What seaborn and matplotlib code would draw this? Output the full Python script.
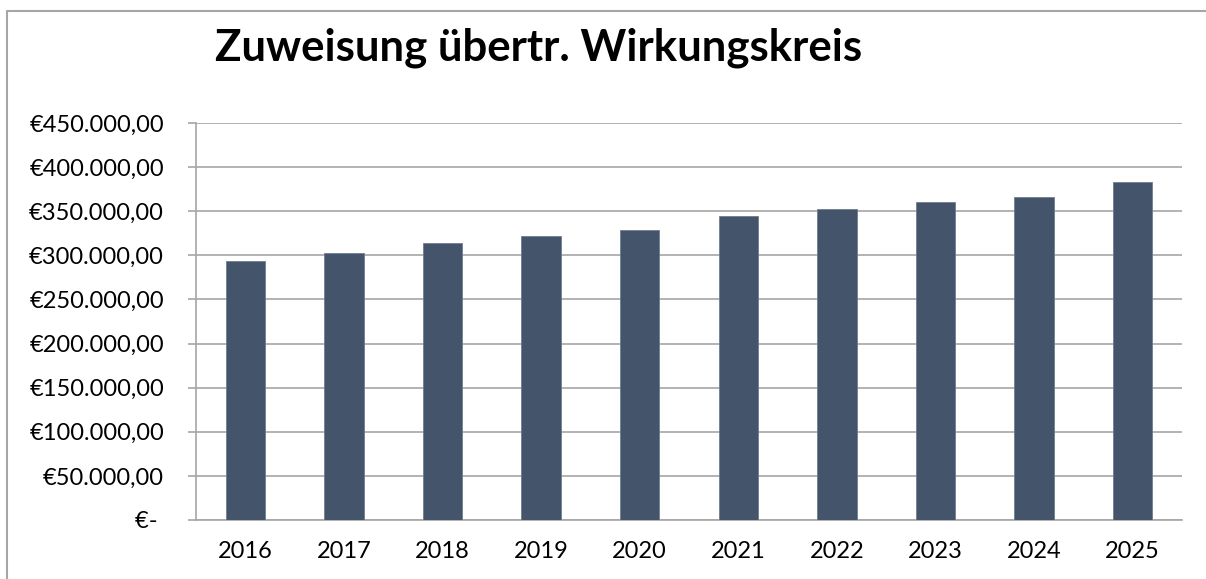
import numpy as np
import pandas as pd
import matplotlib
matplotlib.use('Agg')
import matplotlib.pyplot as plt
import seaborn as sns
from matplotlib.ticker import FuncFormatter, FixedLocator
from matplotlib.lines import Line2D

# values (EUR)
years = ['2016', '2017', '2018', '2019', '2020',
         '2021', '2022', '2023', '2024', '2025']
amounts = [293900, 302600, 313500, 321400, 328550,
           344700, 352250, 360500, 365800, 382700]
y_ticks = [0, 50000, 100000, 150000, 200000, 250000,
           300000, 350000, 400000, 450000]

df = pd.DataFrame({'Jahr': years, 'Betrag': amounts})

sns.set_style('white')
plt.rcParams['font.family'] = ['Lato', 'DejaVu Sans']
plt.rcParams['text.color'] = 'black'
plt.rcParams['xtick.labelcolor'] = 'black'
plt.rcParams['ytick.labelcolor'] = 'black'

fig = plt.figure(figsize=(12.06, 5.79), dpi=100)
ax = fig.add_axes([196 / 1206, 1 - 520 / 579, 986 / 1206, 397 / 579])

sns.barplot(data=df, x='Jahr', y='Betrag', color='#44546A',
            saturation=1, width=0.4, edgecolor='#6F7D90', linewidth=0.6,
            ax=ax, zorder=3)


def euro(v, pos):
    if v == 0:
        # accounting format leaves a small gap after the dash
        return '€- '
    s = f'{v:,.2f}'.replace(',', 'X').replace('.', ',').replace('X', '.')
    return '€' + s


ax.set_ylim(0, 450000)
ax.yaxis.set_major_locator(FixedLocator(y_ticks))
ax.yaxis.set_major_formatter(FuncFormatter(euro))
ax.grid(axis='y', color='#A6A6A6', linewidth=1.2, zorder=0)

ax.set_xlim(-0.5, len(years) - 0.5)
ax.set_xticks(np.arange(-0.5, len(years)), minor=True)
ax.tick_params(axis='x', which='major', length=0, pad=15, labelsize=17)
ax.tick_params(axis='x', which='minor', length=6, width=1.2,
               color='#A6A6A6', direction='out')
ax.tick_params(axis='y', length=6, width=1.2, color='#A6A6A6',
               direction='out', pad=17, labelsize=17)
ax.tick_params(left=True, bottom=True)

for side in ['top', 'right']:
    ax.spines[side].set_visible(False)
for side in ['left', 'bottom']:
    ax.spines[side].set_color('#A6A6A6')
    ax.spines[side].set_linewidth(1.2)
ax.set_xlabel('')
ax.set_ylabel('')

# chart title and outer frame (top and left edge visible)
fig.text(215 / 1206, 1 - 48 / 579, 'Zuweisung übertr. Wirkungskreis',
         fontsize=31.5, fontweight='bold', ha='left', va='center',
         color='black')
fx, fy = 7 / 1206, 1 - 11 / 579
fig.lines.append(Line2D([fx, 1.0], [fy, fy], transform=fig.transFigure,
                        color='#A6A6A6', linewidth=1.5))
fig.lines.append(Line2D([fx, fx], [0, fy], transform=fig.transFigure,
                        color='#A6A6A6', linewidth=1.5))

fig.savefig('out.png', dpi=100)
